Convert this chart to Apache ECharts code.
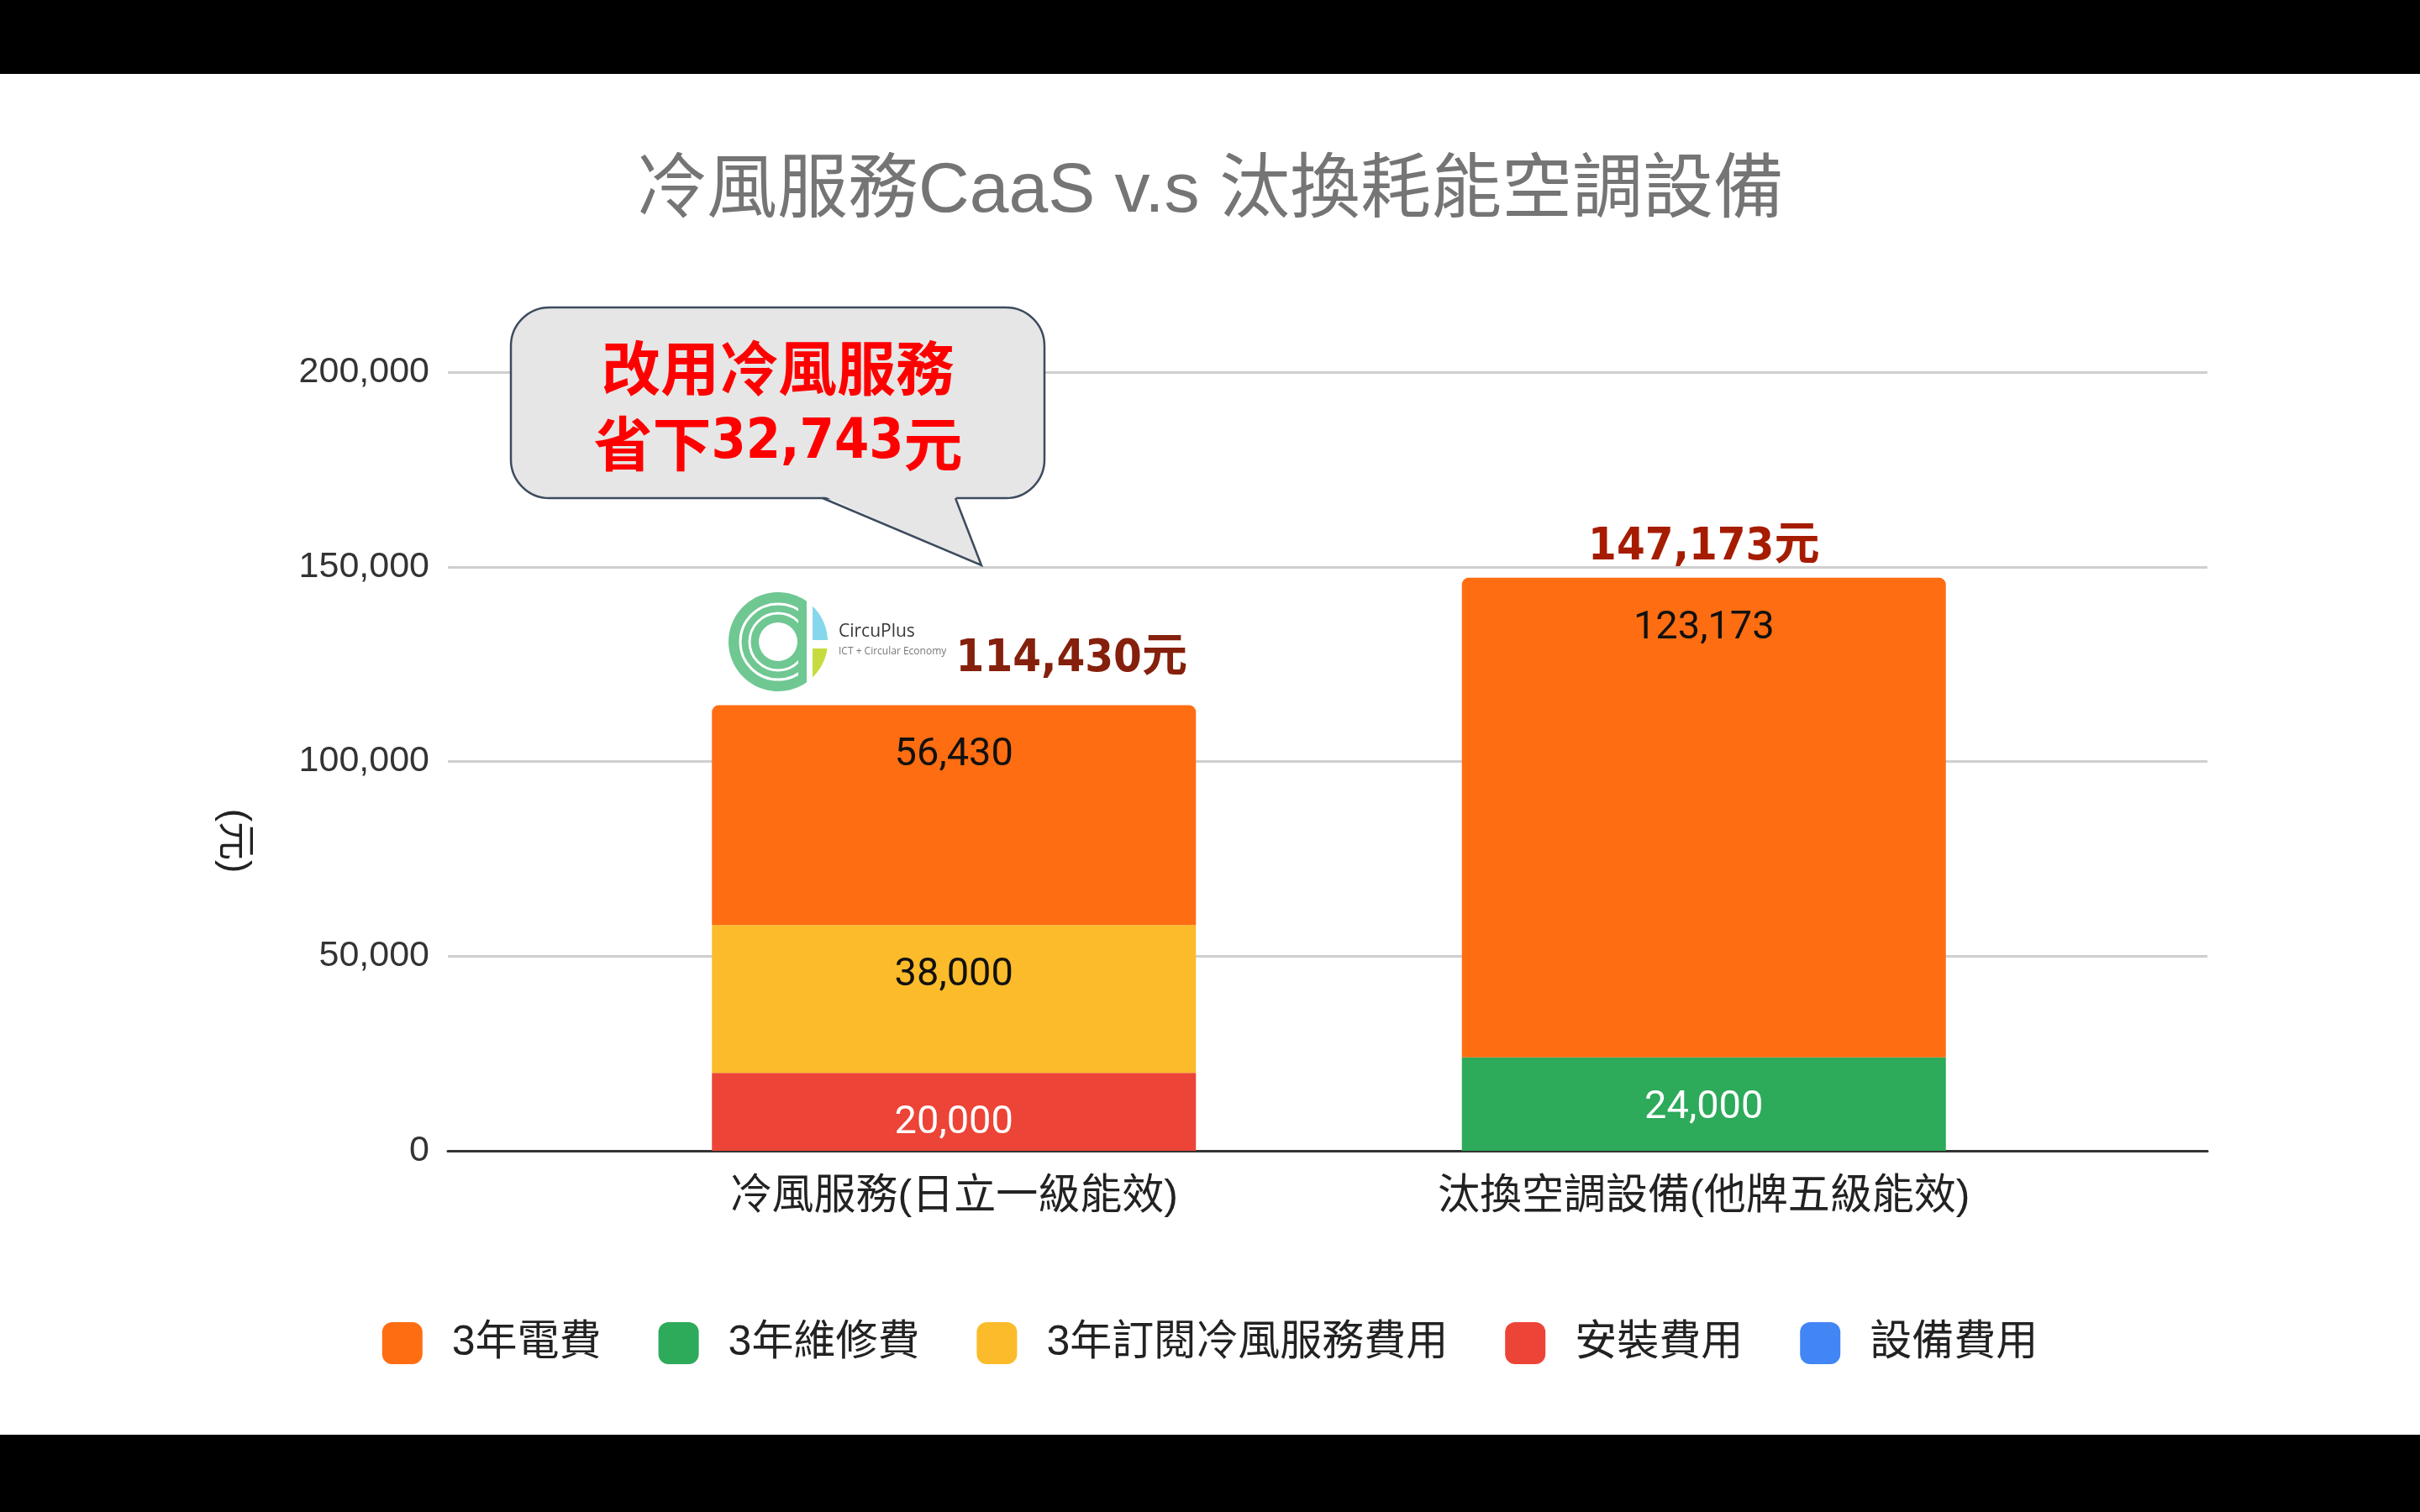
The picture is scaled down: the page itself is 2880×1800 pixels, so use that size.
<!DOCTYPE html>
<html><head><meta charset="utf-8">
<script src="https://cdn.jsdelivr.net/npm/echarts@6/dist/echarts.min.js"></script>
<style>html,body{margin:0;padding:0;background:#000}#c{width:2880px;height:1800px}</style>
</head><body><div id="c"></div>
<script>
// ---- data ----
const categories = ['冷風服務(日立一級能效)', '汰換空調設備(他牌五級能效)'];
const legendNames = ['3年電費', '3年維修費', '3年訂閱冷風服務費用', '安裝費用', '設備費用'];
const equipmentCost = [0, 0];          // 設備費用
const installCost = [20000, 0];        // 安裝費用
const subscriptionCost = [38000, 0];   // 3年訂閱冷風服務費用
const maintenanceCost = [0, 24000];    // 3年維修費
const electricityCost = [56430, 123173]; // 3年電費
const totals = [114430, 147173];
const yMin = 0, yMax = 200000, yInterval = 50000;
const calloutLine1 = '改用冷風服務';
const calloutSaving = '32,743';
const yAxisName = '(元)';
const chartTitle = '冷風服務CaaS v.s 汰換耗能空調設備';

// ---- styling ----
const C = {orange:'#ff6d12', green:'#2daa5a', yellow:'#fcbb2a', red:'#ec4437', blue:'#4285f4'};
const latin = "'Liberation Sans','Noto Sans CJK TC',sans-serif";
const narrow = "'Liberation Sans Narrow','Arial Narrow','DejaVu Sans Condensed','Noto Sans CJK TC',sans-serif";
const fmt = v => Number(v).toLocaleString('en-US');

function barSeries(name, data, color, labelColor, radius) {
  return {
    name, type:'bar', stack:'total', xAxisIndex:1, yAxisIndex:1, barWidth:576,
    data, itemStyle:{color, borderRadius: radius || 0},
    label:{show:true, position:'insideTop', distance:35, color:labelColor,
      fontSize:47, fontFamily:'Roboto', lineHeight:50,
      formatter: p => p.value ? fmt(p.value) : ''},
    emphasis:{disabled:true}
  };
}

const totalLabelStyles = [
  {offset:[140,-19], color:'#85200c'},
  {offset:[0,0], color:'#a61c00'}
];

// logo geometry helpers (decoration only)
function arcPts(cx, cy, r, a0, a1, n) {
  const pts = [];
  for (let i = 0; i <= n; i++) {
    const a = a0 + (a1 - a0) * i / n;
    pts.push([cx + r*Math.cos(a), cy + r*Math.sin(a)]);
  }
  return pts;
}
const LX = 926, LY = 764, LR = 59, cutX = 960, gapX = 967;
const angAtX = (x, sign) => Math.atan2(sign*Math.sqrt(LR*LR-(x-LX)*(x-LX)), x-LX);
const angAtY = (y) => Math.atan2(y-LY, Math.sqrt(LR*LR-(y-LY)*(y-LY)));
const greenC = arcPts(LX, LY, LR, angAtX(cutX, 1), 2*Math.PI + angAtX(cutX, -1), 80);
const bluePart = arcPts(LX, LY, LR, angAtX(gapX, -1), angAtY(762), 30).concat([[gapX, 762]]);
const limePart = arcPts(LX, LY, LR, angAtY(772), angAtX(gapX, 1), 30).concat([[gapX, 772]]);

const option = {
  backgroundColor:'#ffffff',
  animation:false,
  title:{text:chartTitle, left:'center', top:178,
    textStyle:{fontSize:84, fontWeight:'normal', color:'#757575', fontFamily:latin, lineHeight:92}},
  legend:{data:legendNames, left:'center', top:1569, itemWidth:48, itemHeight:50, itemGap:68,
    icon:'roundRect', selectedMode:false,
    textStyle:{fontSize:50, color:'#222', fontFamily:latin, padding:[0,0,0,30]}},
  grid:[
    {left:533, right:253, top:443, bottom:430, outerBoundsMode:'none'},
    {left:689, right:406, top:443, bottom:430, outerBoundsMode:'none'}
  ],
  xAxis:[
    {type:'category', gridIndex:0, data:[''], axisTick:{show:false}, axisLabel:{show:false},
      axisLine:{show:true, lineStyle:{color:'#333', width:3}}, splitLine:{show:false}},
    {type:'category', gridIndex:1, data:categories, axisTick:{show:false},
      axisLine:{show:false}, splitLine:{show:false},
      axisLabel:{show:true, margin:30, fontSize:50, color:'#222', fontFamily:latin}}
  ],
  yAxis:[
    {type:'value', gridIndex:0, min:yMin, max:yMax, interval:yInterval,
      axisLine:{show:false}, axisTick:{show:false},
      axisLabel:{margin:22, fontSize:43, color:'#333', fontFamily:latin, formatter:v => fmt(v)},
      splitLine:{show:true, lineStyle:{color:'#cfcfcf', width:3}}},
    {type:'value', gridIndex:1, min:yMin, max:yMax, interval:yInterval, show:false,
      splitLine:{show:false}}
  ],
  series:[
    barSeries('設備費用', equipmentCost, C.blue, '#fff'),
    barSeries('安裝費用', installCost, C.red, '#fff'),
    barSeries('3年訂閱冷風服務費用', subscriptionCost, C.yellow, '#111'),
    barSeries('3年維修費', maintenanceCost, C.green, '#fff'),
    barSeries('3年電費', electricityCost, C.orange, '#111', [8,8,0,0]),
    {name:'合計', type:'line', xAxisIndex:1, yAxisIndex:1, z:5,
      data: totals.map((v,i) => ({value:v, label:totalLabelStyles[i]})),
      symbol:'circle', symbolSize:2, itemStyle:{color:'rgba(0,0,0,0)'},
      lineStyle:{width:0, opacity:0},
      label:{show:true, position:'top', distance:5, fontSize:54, fontWeight:'bold',
        fontFamily:narrow, lineHeight:60, formatter:p => fmt(p.value) + '元'},
      emphasis:{disabled:true}, silent:true}
  ],
  graphic:[
    {type:'rect', shape:{x:0, y:0, width:2880, height:88}, style:{fill:'#000'}, z:200},
    {type:'rect', shape:{x:0, y:1708, width:2880, height:92}, style:{fill:'#000'}, z:200},
    // y axis name
    {type:'text', x:279, y:1001, rotation:-Math.PI/2, z:50,
      style:{text:yAxisName, x:0, y:0, font:"46px 'Liberation Sans','Noto Sans CJK TC'", fill:'#222',
        align:'center', verticalAlign:'middle', textAlign:'center', textVerticalAlign:'middle'}},
    // callout
    {type:'rect', z:100, shape:{x:608, y:366, width:635, height:227, r:46},
      style:{fill:'#e6e6e6', stroke:'#3d4b5e', lineWidth:2.5}},
    {type:'polygon', z:101, shape:{points:[[979,590],[1168,673],[1137,590]]},
      style:{fill:'#e6e6e6'}},
    {type:'polyline', z:102, shape:{points:[[979,593],[1168,673],[1137,593]]},
      style:{fill:null, stroke:'#3d4b5e', lineWidth:2.5}},
    {type:'text', x:926, y:438, z:103,
      style:{text:calloutLine1, x:0, y:0, font:"bold 70px 'Noto Sans CJK TC'",
        fill:'#ff0000', align:'center', verticalAlign:'middle',
        textAlign:'center', textVerticalAlign:'middle'}},
    {type:'text', x:926, y:528, z:103,
      style:{text:'{a|省下}{b|' + calloutSaving + '}{a|元}', x:0, y:0, fill:'#ff0000',
        rich:{a:{fontSize:70, fontWeight:'bold', fontFamily:'Noto Sans CJK TC', fill:'#ff0000', color:'#ff0000'},
              b:{fontSize:66, fontWeight:'bold', fontFamily:narrow, fill:'#ff0000', color:'#ff0000'}},
        align:'center', verticalAlign:'middle', textAlign:'center', textVerticalAlign:'middle'}},
    // logo
    {type:'polygon', z:60, shape:{points:greenC}, style:{fill:'#6fc792'}},
    {type:'circle', z:61, shape:{cx:LX, cy:LY, r:45}, style:{fill:null, stroke:'#fff', lineWidth:3}},
    {type:'circle', z:61, shape:{cx:LX, cy:LY, r:34}, style:{fill:null, stroke:'#fff', lineWidth:3}},
    {type:'circle', z:61, shape:{cx:LX, cy:LY, r:23}, style:{fill:'#fff'}},
    {type:'rect', z:62, shape:{x:950, y:716, width:10, height:96}, style:{fill:'#6fc792'}},
    {type:'rect', z:62, shape:{x:960, y:700, width:7, height:130}, style:{fill:'#fff'}},
    {type:'polygon', z:63, shape:{points:bluePart}, style:{fill:'#86d7ec'}},
    {type:'polygon', z:63, shape:{points:limePart}, style:{fill:'#c6dc3e'}},
    {type:'text', x:998, y:752, z:64,
      style:{text:'CircuPlus', x:0, y:0, font:"21px 'Liberation Sans Narrow','Open Sans'", fill:'#3a3a3a',
        align:'left', verticalAlign:'middle', textAlign:'left', textVerticalAlign:'middle'}},
    {type:'text', x:998, y:776, z:64,
      style:{text:'ICT + Circular Economy', x:0, y:0, font:"12px 'Liberation Sans Narrow','Open Sans'", fill:'#777',
        align:'left', verticalAlign:'middle', textAlign:'left', textVerticalAlign:'middle'}}
  ]
};
const chart = echarts.init(document.getElementById('c'));
chart.setOption(option);
</script></body></html>
